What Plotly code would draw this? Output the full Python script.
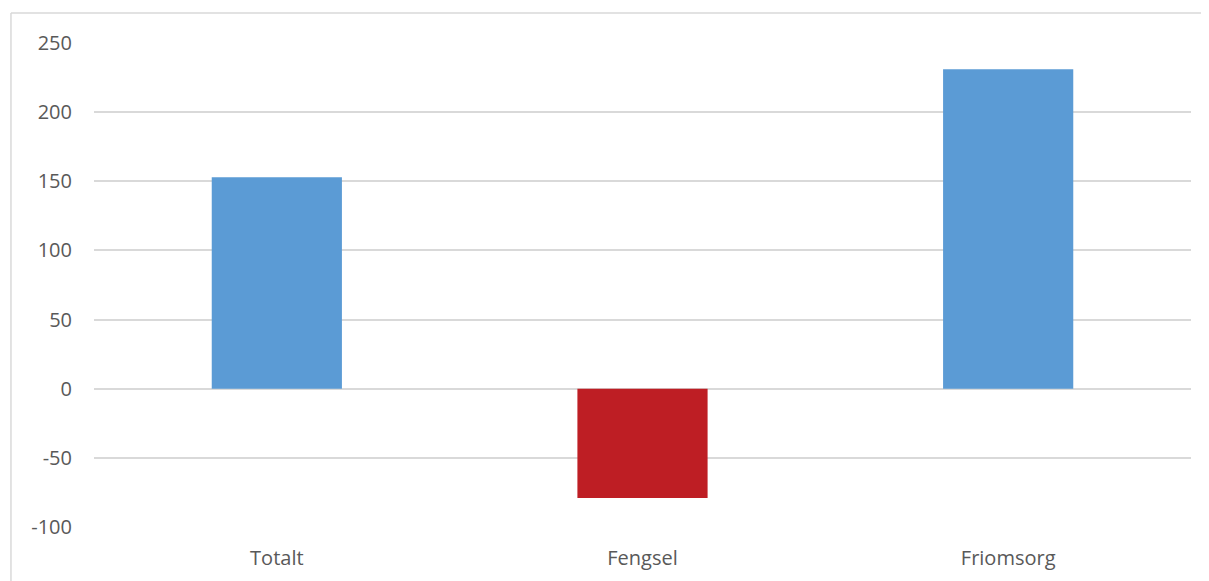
import plotly.graph_objects as go

categories = ["Totalt", "Fengsel", "Friomsorg"]
values = [153, -79, 231]
bar_colors = ["#5B9BD5", "#BE1E24", "#5B9BD5"]
y_ticks = [-100, -50, 0, 50, 100, 150, 200, 250]
y_tick_labels = ["-100", "-50", "0", "50", "100", "150", "200", "250"]

GRID = "#D9D9D9"
TEXT = "#595959"

fig = go.Figure()
fig.add_trace(go.Bar(x=categories, y=values, marker=dict(color=bar_colors, line=dict(width=0)),
                     hoverinfo="x+y"))

# outer chart border (cropped on right and bottom in the reference)
fig.add_shape(type="line", xref="paper", yref="paper", x0=-0.0757, x1=-0.0757, y0=-0.3, y1=1.062,
              line=dict(color=GRID, width=1.5))
fig.add_shape(type="line", xref="paper", yref="paper", x0=-0.0757, x1=1.2, y0=1.062, y1=1.062,
              line=dict(color=GRID, width=1.5))

# page body adds an 8px offset, so margins are shifted to keep the plot in place
fig.update_layout(
    width=1209, height=581,
    margin=dict(l=86, r=26, t=35, b=62),
    paper_bgcolor="white", plot_bgcolor="white",
    bargap=0.644, showlegend=False,
    font=dict(family="Open Sans", size=20, color=TEXT),
)
fig.update_xaxes(showgrid=False, showline=False, ticks="", ticklabelstandoff=17,
                 tickfont=dict(size=20, color=TEXT))
fig.update_yaxes(range=[-100, 250], tickvals=y_ticks, ticktext=y_tick_labels,
                 showgrid=True, gridcolor=GRID, gridwidth=1.5,
                 zeroline=True, zerolinecolor=GRID, zerolinewidth=1.5, showline=False,
                 ticks="", ticklabelstandoff=21, tickfont=dict(size=20, color=TEXT))

fig.write_html("out.html")
